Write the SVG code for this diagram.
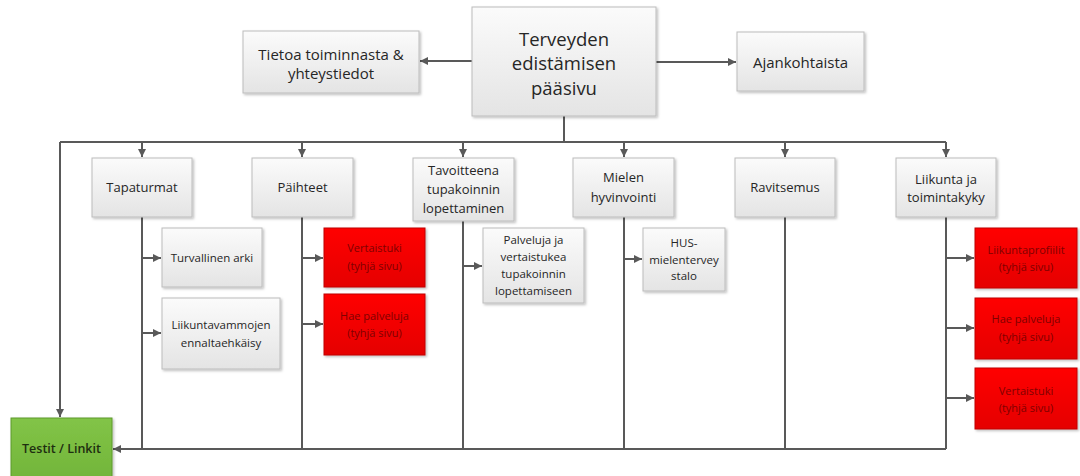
<svg xmlns="http://www.w3.org/2000/svg" width="1080" height="476" viewBox="0 0 1080 476">
<defs>
<linearGradient id="gGray" x1="0" y1="0" x2="0" y2="1">
<stop offset="0" stop-color="#fbfbfb"/>
<stop offset="1" stop-color="#e4e4e4"/>
</linearGradient>
<linearGradient id="gRed" x1="0" y1="0" x2="0" y2="1">
<stop offset="0" stop-color="#ff0000"/>
<stop offset="1" stop-color="#e50000"/>
</linearGradient>
<linearGradient id="gGreen" x1="0" y1="0" x2="0" y2="1">
<stop offset="0" stop-color="#82c447"/>
<stop offset="1" stop-color="#72b53a"/>
</linearGradient>
<filter id="sh" x="-10%" y="-10%" width="130%" height="130%">
<feDropShadow dx="1.5" dy="1.5" stdDeviation="1" flood-color="#000" flood-opacity="0.25"/>
</filter>
<marker id="arr" markerWidth="10" markerHeight="10" refX="9" refY="5" orient="auto" markerUnits="userSpaceOnUse">
<path d="M1,1 L9,5 L1,9 Z" fill="#595959"/>
</marker>
</defs>
<style>
.g{fill:url(#gGray);stroke:#bcbcbc;stroke-width:1;filter:url(#sh)}
.r{fill:url(#gRed);stroke:#c00000;stroke-width:1;filter:url(#sh)}
.gr{fill:url(#gGreen);stroke:#5c9a2c;stroke-width:1;filter:url(#sh)}
text{font-family:"Open Sans","Noto Sans",sans-serif;text-anchor:middle;fill:#262626}
.t20{font-size:18.5px}
.t16{font-size:15px}
.t14{font-size:13px}
.t12{font-size:11.5px}
.tr{font-size:11px;fill:#800000}
.tg{font-size:12.5px;font-weight:600;fill:#1e2e10}
.c{fill:none;stroke:#595959;stroke-width:2}
</style>
<rect width="1080" height="476" fill="#ffffff"/>
<g id="connectors">
<path class="c" d="M472,61 H420" marker-end="url(#arr)"/>
<path class="c" d="M656,62 H736" marker-end="url(#arr)"/>
<path class="c" d="M564,116 V142"/>
<path class="c" d="M60,142 H946"/>
<path class="c" d="M60,142 V417" marker-end="url(#arr)"/>
<path class="c" d="M142,142 V157" marker-end="url(#arr)"/>
<path class="c" d="M302,142 V157" marker-end="url(#arr)"/>
<path class="c" d="M463,142 V157" marker-end="url(#arr)"/>
<path class="c" d="M624,142 V157" marker-end="url(#arr)"/>
<path class="c" d="M785,142 V157" marker-end="url(#arr)"/>
<path class="c" d="M946,142 V157" marker-end="url(#arr)"/>
<path class="c" d="M142,217 V449"/>
<path class="c" d="M302,217 V449"/>
<path class="c" d="M463,221 V449"/>
<path class="c" d="M624,217 V449"/>
<path class="c" d="M785,217 V449"/>
<path class="c" d="M946,217 V449"/>
<path class="c" d="M946,449 H113" marker-end="url(#arr)"/>
<path class="c" d="M142,258 H161" marker-end="url(#arr)"/>
<path class="c" d="M142,333 H161" marker-end="url(#arr)"/>
<path class="c" d="M302,258 H323" marker-end="url(#arr)"/>
<path class="c" d="M302,324 H323" marker-end="url(#arr)"/>
<path class="c" d="M463,266 H482" marker-end="url(#arr)"/>
<path class="c" d="M624,259 H642" marker-end="url(#arr)"/>
<path class="c" d="M946,258 H974" marker-end="url(#arr)"/>
<path class="c" d="M946,328 H974" marker-end="url(#arr)"/>
<path class="c" d="M946,398 H974" marker-end="url(#arr)"/>
</g>
<g id="main">
<rect class="g" x="472" y="7" width="184" height="109"/>
<text class="t20" x="564" y="46">Terveyden</text>
<text class="t20" x="564" y="70">edistämisen</text>
<text class="t20" x="564" y="95">pääsivu</text>
</g>
<g id="tietoa">
<rect class="g" x="243" y="31" width="176" height="62"/>
<text class="t16" x="331" y="60">Tietoa toiminnasta &amp;</text>
<text class="t16" x="331" y="79">yhteystiedot</text>
</g>
<g id="ajankohtaista">
<rect class="g" x="737" y="32" width="127" height="59"/>
<text class="t16" x="800.5" y="68">Ajankohtaista</text>
</g>
<g id="tapaturmat">
<rect class="g" x="92" y="158" width="100" height="59"/>
<text class="t14" x="142" y="192">Tapaturmat</text>
</g>
<g id="paihteet">
<rect class="g" x="252" y="158" width="101" height="59"/>
<text class="t14" x="302.5" y="192">Päihteet</text>
</g>
<g id="tavoitteena">
<rect class="g" x="413" y="158" width="101" height="63"/>
<text class="t14" x="463.5" y="175">Tavoitteena</text>
<text class="t14" x="463.5" y="194">tupakoinnin</text>
<text class="t14" x="463.5" y="213">lopettaminen</text>
</g>
<g id="mielen">
<rect class="g" x="573" y="158" width="101" height="59"/>
<text class="t14" x="623.5" y="182">Mielen</text>
<text class="t14" x="623.5" y="202">hyvinvointi</text>
</g>
<g id="ravitsemus">
<rect class="g" x="735" y="158" width="100" height="59"/>
<text class="t14" x="785" y="192">Ravitsemus</text>
</g>
<g id="liikunta">
<rect class="g" x="896" y="158" width="100" height="59"/>
<text class="t14" x="946" y="184">Liikunta ja</text>
<text class="t14" x="946" y="202">toimintakyky</text>
</g>
<g id="turvallinen">
<rect class="g" x="162" y="228" width="100" height="59"/>
<text class="t12" x="212" y="262">Turvallinen arki</text>
</g>
<g id="liikuntavammojen">
<rect class="g" x="162" y="298" width="118" height="71"/>
<text class="t12" x="221" y="329">Liikuntavammojen</text>
<text class="t12" x="221" y="347">ennaltaehkäisy</text>
</g>
<g id="vertaistuki1">
<rect class="r" x="324" y="228" width="101" height="59"/>
<text class="tr" x="374.5" y="252">Vertaistuki</text>
<text class="tr" x="374.5" y="270">(tyhjä sivu)</text>
</g>
<g id="haepalveluja1">
<rect class="r" x="324" y="294" width="101" height="61"/>
<text class="tr" x="374.5" y="320">Hae palveluja</text>
<text class="tr" x="374.5" y="337">(tyhjä sivu)</text>
</g>
<g id="palveluja">
<rect class="g" x="483" y="228" width="101" height="75"/>
<text class="t12" x="533.5" y="244">Palveluja ja</text>
<text class="t12" x="533.5" y="261">vertaistukea</text>
<text class="t12" x="533.5" y="278">tupakoinnin</text>
<text class="t12" x="533.5" y="295">lopettamiseen</text>
</g>
<g id="hus">
<rect class="g" x="643" y="228" width="82" height="63"/>
<text class="t12" x="684" y="247">HUS-</text>
<text class="t12" x="684" y="264">mielentervey</text>
<text class="t12" x="684" y="280">stalo</text>
</g>
<g id="liikuntaprofiilit">
<rect class="r" x="975" y="228" width="102" height="60"/>
<text class="tr" x="1026" y="254">Liikuntaprofiilit</text>
<text class="tr" x="1026" y="271">(tyhjä sivu)</text>
</g>
<g id="haepalveluja2">
<rect class="r" x="975" y="298" width="102" height="61"/>
<text class="tr" x="1026" y="323">Hae palveluja</text>
<text class="tr" x="1026" y="341">(tyhjä sivu)</text>
</g>
<g id="vertaistuki2">
<rect class="r" x="975" y="368" width="102" height="61"/>
<text class="tr" x="1026" y="395">Vertaistuki</text>
<text class="tr" x="1026" y="412">(tyhjä sivu)</text>
</g>
<g id="testit">
<rect class="gr" x="11" y="418" width="101" height="62"/>
<text class="tg" x="61.5" y="453">Testit / Linkit</text>
</g>
</svg>
